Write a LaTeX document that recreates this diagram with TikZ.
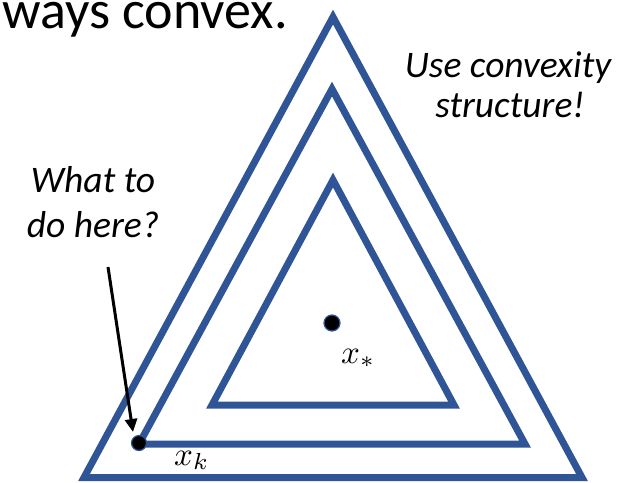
\documentclass[tikz,border=0pt]{standalone}
\usepackage{graphicx}
\usepackage{fontspec}
\setmainfont{Carlito}
\usetikzlibrary{arrows.meta}
\definecolor{tri}{HTML}{2F5597}
\tikzset{
  tribox/.style={draw=tri, line width=7pt, line join=miter},
  dotmark/.style={circle, fill=black, draw=tri, line width=1.2pt, inner sep=0pt, minimum size=16pt},
  mlabel/.style={inner sep=0pt, anchor=base west},
  note/.style={inner sep=0pt, anchor=base, font=\fontsize{37.5}{45}\selectfont\itshape},
  pointer/.style={draw=black, line width=3pt, -{Triangle[length=13pt,width=12pt]}}
}
\begin{document}
\begin{tikzpicture}[x=1pt,y=-1pt]
\useasboundingbox (0,0) rectangle (628,482);
% title fragment
\node[inner sep=0pt, anchor=base west, font=\fontsize{54}{64}\selectfont] (title) at (2,28) {ways convex.};
% triangles
\draw[tribox] (333,17) -- (84,477.5) -- (582,477.5) -- cycle;
\draw[tribox] (332,89) -- (139,444) -- (525,444) -- cycle;
\draw[tribox] (333,180) -- (212,405) -- (454,405) -- cycle;
% points
\node[dotmark] (xs) at (332,323) {};
\node[dotmark, minimum size=15pt] (xk) at (139,443) {};
\node[mlabel] (xslab) at (341,363) {\scalebox{3.3}{$x_*$}};
\node[mlabel] (xklab) at (174,465) {\scalebox{3.3}{$x_k$}};
% notes
\node[note] (q1) at (93,192) {What to};
\node[note] (q2) at (93,237) {do here?};
\node[note] (u1) at (508,77) {Use convexity};
\node[note] (u2) at (510,117) {structure!};
% arrow
\coordinate (astart) at (108,267);
\coordinate (aend) at (133,432);
\draw[pointer] (astart) -- (aend);
\end{tikzpicture}
\end{document}
